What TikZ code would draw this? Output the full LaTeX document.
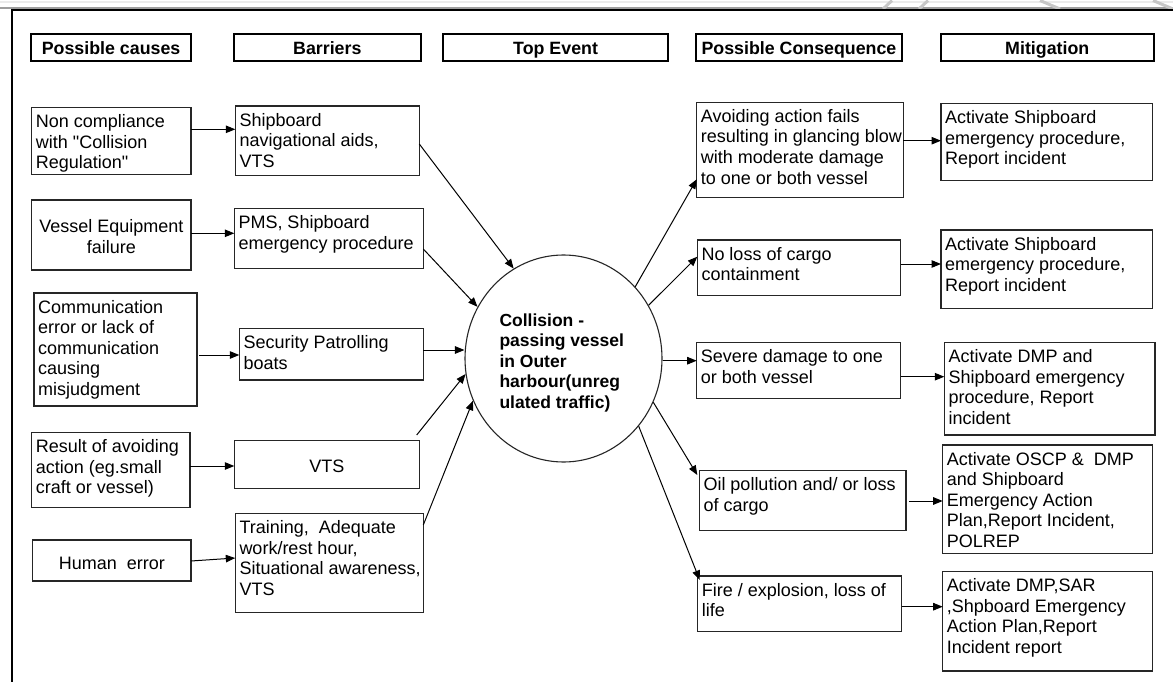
\documentclass[tikz,border=0pt]{standalone}
\usepackage{fontspec}
\setmainfont{Liberation Sans}[Ligatures=TeXOff]
\usetikzlibrary{arrows.meta,shapes.geometric}

\tikzset{
  bx/.style={draw=black!85, line width=1.1pt, inner sep=0pt, outer sep=0pt, anchor=north west},
  txt/.style={anchor=north west, align=left, inner sep=0pt, font=\fontsize{18}{20.5}\selectfont},
  txtc/.style={anchor=center, align=center, inner sep=0pt, font=\fontsize{18}{20.5}\selectfont},
  hdr/.style={draw=black, line width=2.2pt, inner sep=0pt, anchor=north west,
    font=\bfseries\fontsize{17.8}{20}\selectfont, text height=12.6pt, text depth=0pt},
  evt/.style={ellipse, draw=black!85, line width=1.1pt, minimum width=197pt,
    minimum height=207pt, inner sep=0pt},
  evttxt/.style={anchor=north west, align=left, inner sep=0pt,
    font=\bfseries\fontsize{17.5}{20.5}\selectfont},
  arr/.style={-{Triangle[length=9.5pt,width=7.5pt]}, line width=1pt, draw=black},
}

% box with top-left aligned text: name, x1, y1, x2, y2, text
\newcommand{\drawbox}[6]{%
  \node[bx, minimum width={#4-#2}, minimum height={#5-#3}] (#1) at (#2,#3) {};
  \node[txt] (#1-t) at ([xshift=4pt,yshift=-6pt]#1.north west) {\rule{0pt}{14pt}#6};
}
% box with centred text: name, x1, y1, x2, y2, downward offset, text
\newcommand{\centerbox}[7]{%
  \node[bx, minimum width={#4-#2}, minimum height={#5-#3}] (#1) at (#2,#3) {};
  \node[txtc] (#1-t) at ([yshift=-#6pt]#1.center) {#7};
}

\begin{document}
\begin{tikzpicture}[x=1pt,y=-1pt]
\useasboundingbox (0,0) rectangle (1173,682);
\fill[white] (0,0) rectangle (1173,682);

% page edge rules and frame
\draw[black!8, line width=2pt] (0,2.2) -- (1173,2.2);
\draw[black!38, line width=1.6pt] (0,8.1) -- (1173,8.1);
\draw[black!22, line width=3pt] (883,9) -- (892,0.5) (919,9) -- (928,0.5)
  (1040,0.5) -- (1060,9) (1153,0.5) -- (1173,9);
\draw[black, line width=2pt] (11.5,682) -- (11.5,10.3) -- (1173,10.3);

% column headings
\node[hdr, minimum width=160, minimum height=26.7] (h1) at (30,33.3) {Possible causes};
\node[hdr, minimum width=187, minimum height=26.7] (h2) at (232.7,33.3) {Barriers};
\node[hdr, minimum width=225, minimum height=26.7] (h3) at (442,33.3) {Top Event};
\node[hdr, minimum width=206.5, minimum height=26.7] (h4) at (694.6,33.3) {Possible Consequence};
\node[hdr, minimum width=212.7, minimum height=26.7] (h5) at (939.8,33.3) {Mitigation};

% possible causes
\drawbox{a1}{31.7}{107.7}{191}{174.3}{Non compliance\\with "Collision\\Regulation"}
\centerbox{a2}{31.7}{200}{191}{270}{1.5}{Vessel Equipment\\failure}
\drawbox{a3}{34}{293}{197}{406}{Communication\\error or lack of\\communication\\causing\\misjudgment}
\drawbox{a4}{31.7}{432.7}{190}{507.3}{Result of avoiding\\action (eg.small\\craft or vessel)}
\centerbox{a5}{32.7}{540}{191}{581}{2.5}{Human\ \ error}

% barriers
\drawbox{b1}{235.3}{106}{419.3}{175.7}{Shipboard\\navigational aids,\\VTS}
\drawbox{b2}{234.3}{208.3}{423.3}{268.3}{PMS, Shipboard\\emergency procedure}
\drawbox{b3}{239.3}{328.7}{423.3}{380}{Security Patrolling\\boats}
\centerbox{b4}{234.3}{440.7}{419.3}{488.3}{1.5}{VTS}
\drawbox{b5}{235.3}{513.3}{423.3}{612.7}{Training,\ \ Adequate\\work/rest hour,\\Situational awareness,\\VTS}

% top event
\node[evt] (top) at (563.5,358.5) {};
\node[evttxt] (top-t) at (499.3,311.8) {\rule{0pt}{14pt}Collision -\\passing vessel\\in Outer\\harbour(unreg\\ulated traffic)};

% possible consequences
\drawbox{c1}{696.7}{102.3}{903.3}{197.3}{Avoiding action fails\\resulting in glancing blow\\with moderate damage\\to one or both vessel}
\drawbox{c2}{697.3}{240}{900.7}{295.7}{No loss of cargo\\containment}
\drawbox{c3}{696.7}{342.3}{900.7}{398.3}{Severe damage to one\\or both vessel}
\drawbox{c4}{699.3}{470.7}{906}{530.7}{Oil pollution and/ or loss\\of cargo}
\drawbox{c5}{697.7}{576}{901.7}{631.7}{Fire / explosion, loss of\\life}

% mitigation
\drawbox{m1}{941}{103.3}{1152.7}{180.7}{Activate Shipboard\\emergency procedure,\\Report incident}
\drawbox{m2}{941}{230}{1152.7}{308.3}{Activate Shipboard\\emergency procedure,\\Report incident}
\drawbox{m3}{944.3}{342.3}{1155}{435}{Activate DMP and\\Shipboard emergency\\procedure, Report\\incident}
\drawbox{m4}{942.7}{445}{1152.7}{553.3}{Activate OSCP \&\ \ DMP\\and Shipboard\\Emergency Action\\Plan,Report Incident,\\POLREP}
\drawbox{m5}{942.7}{571.7}{1152.7}{671}{Activate DMP,SAR\\,Shpboard Emergency\\Action Plan,Report\\Incident report}

% causes to barriers
\draw[arr] (a1.east |- 0,129.3) -- (b1.west |- 0,129.3);
\draw[arr] (a2.east |- 0,233.3) -- (b2.west |- 0,233.3);
\draw[arr] ([xshift=2pt]a3.east |- 0,355) -- (b3.west |- 0,355);
\draw[arr] (a4.east |- 0,466) -- (b4.west |- 0,466);
\draw[arr] (a5.east |- 0,561) -- (b5.west |- 0,558);

% barriers to top event
\draw[arr] (b1.east |- 0,144) -- (top.119.4);
\draw[arr] (b2.east |- 0,249) -- (top.149.8);
\draw[arr] (b3.east |- 0,350) -- (top.west |- 0,350);
\draw[arr] ([xshift=-2.6pt,yshift=5.7pt]b4.north east) -- (top.189);
\draw[arr] (b5.east |- 0,525) -- (top.205);

% top event to consequences
\draw[arr] (top.45.5) -- (c1.west |- 0,179.3);
\draw[arr] (top.32) -- (c2.west |- 0,256.7);
\draw[arr] (top.east |- 0,360.7) -- (c3.west |- 0,360.7);
\draw[arr] (top.334.7) -- ([xshift=-2pt]c4.west |- 0,475);
\draw[arr] (top.318) -- ([xshift=2pt]c5.west |- 0,580);

% consequences to mitigation
\draw[arr] (c1.east |- 0,140.7) -- (m1.west |- 0,140.7);
\draw[arr] (c2.east |- 0,264) -- (m2.west |- 0,264);
\draw[arr] (c3.east |- 0,376.7) -- (m3.west |- 0,376.7);
\draw[arr] ([xshift=3pt]c4.east |- 0,501) -- (m4.west |- 0,501);
\draw[arr] (c5.east |- 0,606.7) -- (m5.west |- 0,606.7);
\end{tikzpicture}
\end{document}
